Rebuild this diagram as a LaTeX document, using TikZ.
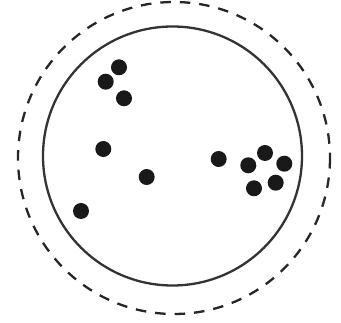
\documentclass[tikz,border=0pt]{standalone}
\begin{document}
\begin{tikzpicture}[x=1pt,y=-1pt,
  dot/.style={circle,fill=black!90,inner sep=0pt,minimum size=16pt},
  outer/.style={draw=black!85,line width=2.3pt,dash pattern=on 10.5pt off 9pt},
  inner/.style={draw=black!80,line width=2.3pt}]
\useasboundingbox (0,0) rectangle (341,323);
\draw[outer] (174,158) circle[radius=156];
\draw[inner] (172.5,156) circle[radius=129.5];
\node[dot] (d1) at (119,67.3) {};
\node[dot] (d2) at (105.7,81.7) {};
\node[dot] (d3) at (124,98.3) {};
\node[dot] (d4) at (103.3,149) {};
\node[dot] (d5) at (146.7,177) {};
\node[dot] (d6) at (81,211) {};
\node[dot] (d7) at (218.7,159) {};
\node[dot] (d8) at (248.3,165.3) {};
\node[dot] (d9) at (265,153) {};
\node[dot] (d10) at (284.3,163.7) {};
\node[dot] (d11) at (275.7,182.7) {};
\node[dot] (d12) at (254,188.3) {};
\end{tikzpicture}
\end{document}
